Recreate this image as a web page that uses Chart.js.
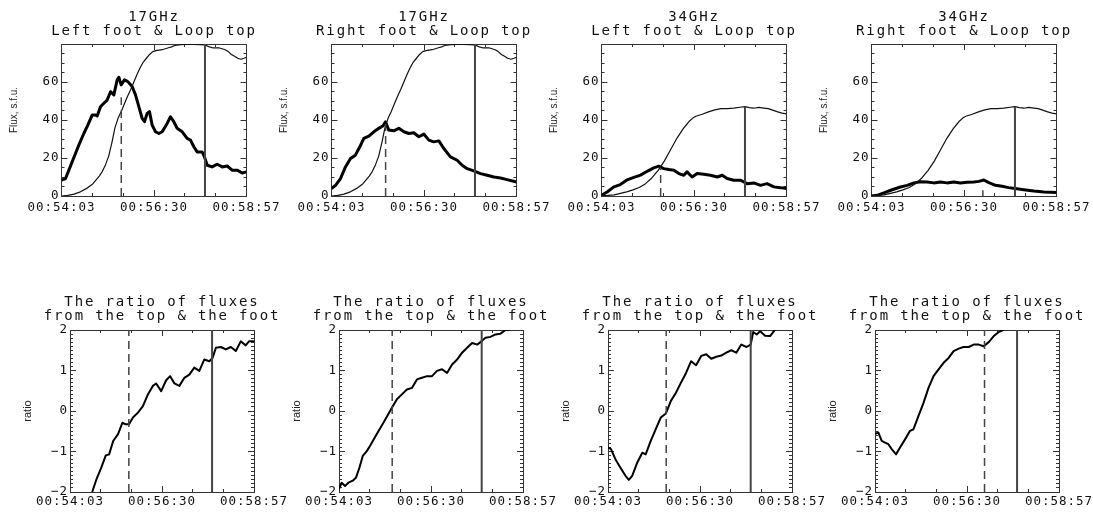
<!DOCTYPE html>
<html><head><meta charset="utf-8">
<script src="https://cdn.jsdelivr.net/npm/chart.js@4.4.1/dist/chart.umd.min.js"></script>
<style>
html,body{margin:0;padding:0;background:#fff;}
#wrap{position:relative;width:1093px;height:512px;overflow:hidden;background:#fff;}
canvas{position:absolute;}
</style></head><body><div id="wrap"></div>
<script>
// ---------- tick labels ----------
const xTickValues = [0, 147, 294];
const xTickLabels = ['00:54:03', '00:56:30', '00:58:57'];
const fluxTickValues = [0, 20, 40, 60];
const fluxTickLabels = ['0', '20', '40', '60'];
const ratioTickValues = [-2, -1, 0, 1, 2];
const ratioTickLabels = ['\u22122', '\u22121', '0', '1', '2'];

// ---------- titles ----------
const topTitles = [
  ['17GHz', 'Left foot & Loop top'],
  ['17GHz', 'Right foot & Loop top'],
  ['34GHz', 'Left foot & Loop top'],
  ['34GHz', 'Right foot & Loop top']
];
const ratioTitle = ['The ratio of fluxes', 'from the top & the foot'];
const fluxAxisTitle = 'Flux, s.f.u.';
const ratioAxisTitle = 'ratio';

// ---------- series (time in s after 00:54:03) ----------
const tTop17 = [0,10,20,30,40,50,60,65,70,75,80,85,90,95,100,105,110,115,120,125,130,135,140,145,150,160,170,175,180,190,200,210,220,228,235,240,250,255,260,265,270,275,280,285,290,294];
const top17  = [0,0.3,1,2.2,4,6.5,10.5,13,16.5,21,28,36,41,44.5,48.5,52.5,56,60,64,67.5,70.5,72.5,74.5,76,76.5,77,78,78.5,79.2,79.6,79.8,79.8,79.7,79.5,78.5,78,78,77.5,77,76,74.5,73.5,72.5,72,72.5,73];

const tLeft17 = [0,6.4,11.7,17,22.2,27.5,35.5,41.8,48.7,54,56.7,62,67.3,72.6,77.9,83.2,88.5,91.1,94.8,100.1,105.4,112.3,117.6,122.9,128.2,131.9,136.1,139.8,144.1,149.4,154.7,160,167.9,173.2,178.5,183.8,191.8,199.7,205,210.3,215.6,223.5,227.2,231.5,239.4,247.4,255.3,263.3,271.2,279.1,287.1,294];
const left17  = [8.3,9.2,13.6,18,22.4,26.8,32.9,37.3,42.6,42.6,42.1,47,48.8,50.5,54.9,53.2,61.1,62.5,58.5,61.1,60.2,57.6,53.2,47,40.8,39.1,43.5,44.4,37.3,33.8,32.9,33.8,38.2,41.7,39.1,35.6,33.8,30.3,29.4,25.9,23.2,23.2,20.6,16.2,15.3,16.7,15.3,15.8,13.6,13.6,12.1,12.7];

const tRight17 = [0,6.4,14.3,22.2,30.2,38,45,51.4,59.3,67.3,75.2,82,85.8,91,99,107,115,123,130.8,138.8,146.7,154.7,162.6,170.6,178.5,189,199.7,207.6,215.6,226,236.8,247.4,258,268.6,279,294];
const right17  = [3.9,5.6,9.2,15.3,19.7,21.5,25.9,30.3,31.5,33.8,35.6,37,39,34.7,34.3,35.6,33.8,32.9,33.3,31.2,32.6,29.4,28.5,29,25,20.6,18.8,16.2,14.4,13.2,11.8,10.9,10,9.5,8.6,7.4];

const tTop34 = [0,10,20,30,40,50,60,70,80,90,100,110,115,120,125,130,135,140,145,150,160,170,180,190,200,210,220,228,235,242,250,258,265,272,280,287,294];
const top34  = [0.2,0.3,0.6,1.4,2.2,3.2,4.5,6.5,9.5,13.5,18.5,24.5,27.5,30.5,33,35.5,37.5,39.5,41,42,43,44.3,45.3,46,46,46.3,46.7,47,46.5,46.2,46.6,46.3,46,45.2,44.3,43.6,43.2];

const tLeft34 = [0,9,19.6,30,41,51.4,62,72.6,83,91,99,107,115,123,130.8,136,144,152,162.6,173,184,191.8,199.7,210,221,231.5,242,252.7,263,274,284.5,294];
const left34  = [0.4,2.1,4.8,6,8.5,9.8,11,13,14.8,15.7,14.4,13.9,13.6,11.8,10.9,12.7,10,11.8,11.4,10.9,10,10.9,9.2,8.3,8.3,6.5,6.9,5.6,6.5,4.8,4.4,3.9];

const tRight34 = [0,9,19.6,32.8,46,56.7,67.3,78,88.5,99,109.6,120,130.8,141.4,152,162.6,170.6,178.5,186.5,197,207.6,218,228.3,242,258,274,294];
const right34  = [0,0.35,1.6,3.3,4.75,5.6,6.9,7.5,7.4,6.9,7.4,6.9,7.4,6.9,7.2,7.4,7.7,8.4,7,5.6,5.1,4.4,3.9,3.3,2.6,2.1,1.8];

const tRatio1 = [35.5,42.4,50,57,62.5,69,76.8,83.7,89,94.3,100.6,108.6,116.5,124.5,132.4,137.7,145.7,153.6,160,166.9,174.8,182.7,190.7,198.6,206.6,214.5,222.5,227.8,233,241,249,257,265,272.8,280.7,286,294];
const ratio1  = [-2,-1.68,-1.4,-1.1,-1.07,-0.74,-0.57,-0.29,-0.33,-0.33,-0.16,-0.04,0.12,0.41,0.62,0.68,0.49,0.76,0.86,0.68,0.62,0.82,0.9,1.07,0.99,1.27,1.23,1.31,1.56,1.58,1.52,1.58,1.48,1.72,1.62,1.72,1.72];

const tRatio2 = [0,4.3,9.6,15,22,27.3,32.6,38,44.4,49.7,60.4,71,84.5,92.5,100.5,108.5,116.5,124.5,132.6,140.6,148.6,156.6,164.6,172.6,180.7,188.7,196.7,204.7,212.7,220.7,227.7,234,242,250,258,266,274,282,294];
const ratio2  = [-1.93,-1.77,-1.85,-1.77,-1.72,-1.64,-1.4,-1.11,-0.99,-0.86,-0.57,-0.29,0.08,0.29,0.41,0.53,0.57,0.78,0.82,0.86,0.86,0.99,1.03,0.94,1.15,1.27,1.44,1.56,1.68,1.64,1.72,1.81,1.83,1.89,1.91,2.0,2.02,2.06,2.1];

const tRatio3 = [0,4.8,11.8,19.9,28,33.3,38.7,46.8,54.8,60.2,68.3,76.3,84.4,92.5,100.5,108.6,116.6,124.7,132.8,140.8,148.9,157,165,173,181,189,197,205,213,221.5,228,232,237.6,243,251,259,267,278,294];
const ratio3  = [-0.9,-0.94,-1.19,-1.4,-1.6,-1.7,-1.6,-1.27,-1.03,-1.07,-0.74,-0.45,-0.16,-0.06,0.25,0.45,0.7,0.94,1.23,1.13,1.36,1.4,1.29,1.34,1.37,1.44,1.5,1.44,1.64,1.58,1.64,1.95,1.89,1.97,1.86,1.85,2.01,2.05,2.1];

const tRatio4 = [0,5.3,10.7,16,21.4,26.7,33.7,40,48,56,61.5,69.5,77.5,85.5,93.5,101.6,109.6,117.6,125.6,133.6,141.6,149.7,157.7,165.7,173.7,181.7,189.8,197.8,205.8,211];
const ratio4  = [-0.57,-0.53,-0.74,-0.78,-0.82,-0.94,-1.07,-0.9,-0.7,-0.49,-0.45,-0.12,0.2,0.57,0.86,1.03,1.19,1.31,1.48,1.54,1.58,1.58,1.64,1.64,1.6,1.7,1.85,1.95,2.01,2.05];

// ---------- marker lines (times in s, and their top values) ----------
const dashTopTimes   = [95, 86, 94, 177];
const dashTopValues  = [52, 38, 15, 3];
const solidTopTimes  = [228, 228, 228, 228];
const solidTopValues = [80, 80, 47, 47];
const dashBottomTimes  = [94, 85, 93, 175];
const solidBottomTimes = [227, 228, 228, 227];

// ---------- helpers ----------
const pts = (ts, vs) => ts.map((t, i) => ({x: t, y: vs[i]}));
const MONO = '"DejaVu Sans Mono", monospace';
const CW = 340;

const spacingPlugin = {
  id: 'spacing',
  beforeDraw(chart) { chart.ctx.letterSpacing = '1.85px'; },
  afterDatasetsDraw(chart) { chart.ctx.letterSpacing = '1px'; },
  afterDraw(chart) { chart.ctx.letterSpacing = '0px'; }
};
const yTitlePlugin = {
  id: 'ytitle',
  afterDraw(chart, args, opts) {
    const ctx = chart.ctx, ca = chart.chartArea;
    ctx.save();
    ctx.letterSpacing = '0px';
    ctx.font = opts.size + 'px "Liberation Sans", Arial, sans-serif';
    ctx.fillStyle = '#222';
    ctx.translate(ca.left - opts.dx, (ca.top + ca.bottom) / 2 + opts.dy);
    ctx.rotate(-Math.PI / 2);
    ctx.textAlign = 'center';
    ctx.textBaseline = 'middle';
    ctx.fillText(opts.text, 0, 0);
    ctx.restore();
  }
};

function fix(w, h) {
  return (s) => {
    if (w !== null) s.width = w;
    if (h !== null) s.height = h;
    s.paddingLeft = 0; s.paddingRight = 0; s.paddingTop = 0; s.paddingBottom = 0;
  };
}

function makeScales(cfg, yW, xH) {
  const tickGrid = (len) => ({display: true, drawOnChartArea: false, drawTicks: true, tickLength: len, tickColor: '#333', tickWidth: 1});
  const lab = (vals, labs) => (v) => { const i = vals.indexOf(v); return i >= 0 ? labs[i] : ''; };
  const tickFont = {family: MONO, size: 12.5};
  return {
    x: {type: 'linear', position: 'bottom', min: 0, max: 294, weight: 0,
        ticks: {z: 1, stepSize: 147, autoSkip: false, maxRotation: 0, font: tickFont, color: '#111', padding: cfg.xPad, callback: lab(xTickValues, xTickLabels)},
        grid: tickGrid(-6), border: {display: true, color: '#333', width: 1}, afterFit: fix(null, xH)},
    xm: {type: 'linear', position: 'bottom', min: 0, max: 294, weight: -1,
        ticks: {display: false, stepSize: 49}, grid: tickGrid(-3), border: {display: false}, afterFit: fix(null, 0)},
    xt: {type: 'linear', position: 'top', min: 0, max: 294, weight: 0,
        ticks: {display: false, stepSize: 147}, grid: tickGrid(-6), border: {display: true, color: '#333', width: 1}, afterFit: fix(null, 0)},
    xtm: {type: 'linear', position: 'top', min: 0, max: 294, weight: -1,
        ticks: {display: false, stepSize: 49}, grid: tickGrid(-3), border: {display: false}, afterFit: fix(null, 0)},
    y: {type: 'linear', position: 'left', min: cfg.ymin, max: cfg.ymax, weight: 0,
        ticks: {z: 1, stepSize: cfg.major, autoSkip: false, font: tickFont, color: '#111', padding: 8, callback: lab(cfg.yVals, cfg.yLabs)},
        grid: tickGrid(-6), border: {display: true, color: '#333', width: 1}, afterFit: fix(yW, null)},
    ym: {type: 'linear', position: 'left', min: cfg.ymin, max: cfg.ymax, weight: -1,
        ticks: {display: false, stepSize: cfg.minor}, grid: tickGrid(-3), border: {display: false}, afterFit: fix(0, null)},
    yr: {type: 'linear', position: 'right', min: cfg.ymin, max: cfg.ymax, weight: 0,
        ticks: {display: false, stepSize: cfg.major}, grid: tickGrid(-6), border: {display: true, color: '#333', width: 1}, afterFit: fix(yW, null)},
    yrm: {type: 'linear', position: 'right', min: cfg.ymin, max: cfg.ymax, weight: -1,
        ticks: {display: false, stepSize: cfg.minor}, grid: tickGrid(-3), border: {display: false}, afterFit: fix(0, null)}
  };
}

function line(data, color, width, dash) {
  return {data, borderColor: color, borderWidth: width, borderDash: dash || [], pointRadius: 0,
          tension: 0, fill: false, borderJoinStyle: 'round', borderCapStyle: 'butt', xAxisID: 'x', yAxisID: 'y'};
}

function makePanel(opt) {
  const wrap = document.getElementById('wrap');
  const c = document.createElement('canvas');
  const yW = (CW - opt.w) / 2;
  c.width = CW; c.height = opt.h;
  c.style.left = (opt.left - yW) + 'px';
  c.style.top = opt.top + 'px';
  c.style.width = CW + 'px'; c.style.height = opt.h + 'px';
  wrap.appendChild(c);
  new Chart(c.getContext('2d'), {
    type: 'line',
    data: {datasets: opt.datasets},
    options: {
      responsive: false, animation: false, devicePixelRatio: 1,
      layout: {padding: 0},
      plugins: {
        legend: {display: false}, tooltip: {enabled: false},
        title: {display: true, text: opt.title, color: '#111', font: {family: MONO, size: 14, weight: 'normal', lineHeight: 1},
                padding: {top: opt.tPadTop, bottom: opt.tPadBottom}},
        ytitle: {text: opt.yTitle, dx: opt.yTitleDx, dy: opt.yTitleDy, size: opt.yTitleSize}
      },
      scales: makeScales(opt.scale, yW, opt.xH)
    },
    plugins: [spacingPlugin, yTitlePlugin]
  });
}

const topLefts = [61, 331, 601, 871];
const bottomLefts = [70, 339, 607.5, 875];
const topThin = [pts(tTop17, top17), pts(tTop17, top17), pts(tTop34, top34), pts(tTop34, top34)];
const topThick = [pts(tLeft17, left17), pts(tRight17, right17), pts(tLeft34, left34), pts(tRight34, right34)];
const ratios = [pts(tRatio1, ratio1), pts(tRatio2, ratio2), pts(tRatio3, ratio3), pts(tRatio4, ratio4)];

const fluxScale = {ymin: 0, ymax: 80, major: 20, minor: 5, yVals: fluxTickValues, yLabs: fluxTickLabels, xPad: 10.5};
const ratioScale = {ymin: -2, ymax: 2, major: 1, minor: 0.1, yVals: ratioTickValues, yLabs: ratioTickLabels, xPad: 8};

for (let i = 0; i < 4; i++) {
  makePanel({
    left: topLefts[i], top: 0, w: 185, h: 230, xH: 34,
    title: topTitles[i], tPadTop: 10, tPadBottom: 6,
    yTitle: fluxAxisTitle, yTitleDx: 47, yTitleDy: -10, yTitleSize: 10,
    scale: fluxScale,
    datasets: [
      line([{x: dashTopTimes[i], y: 0}, {x: dashTopTimes[i], y: dashTopValues[i]}], '#444', 1.5, [8, 5]),
      line([{x: solidTopTimes[i], y: 0}, {x: solidTopTimes[i], y: solidTopValues[i]}], '#444', 2),
      line(topThin[i], '#111', 1.2),
      line(topThick[i], '#000', 3)
    ]
  });
  makePanel({
    left: bottomLefts[i], top: 258, w: 184, h: 254, xH: 20,
    title: ratioTitle, tPadTop: 37, tPadBottom: 7,
    yTitle: ratioAxisTitle, yTitleDx: 42, yTitleDy: 0, yTitleSize: 11,
    scale: ratioScale,
    datasets: [
      line([{x: dashBottomTimes[i], y: -2}, {x: dashBottomTimes[i], y: 2}], '#444', 1.5, [8, 5]),
      line([{x: solidBottomTimes[i], y: -2}, {x: solidBottomTimes[i], y: 2}], '#444', 2),
      line(ratios[i], '#000', 2)
    ]
  });
}
</script>
</body></html>
